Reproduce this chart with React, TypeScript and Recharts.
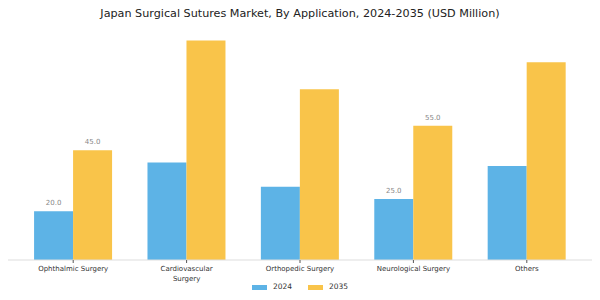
import React from "react";
import { BarChart, Bar, XAxis, YAxis, Legend, LabelList } from "recharts";

const categories = ["Ophthalmic Surgery", "Cardiovascular Surgery", "Orthopedic Surgery", "Neurological Surgery", "Others"];
const values2024 = [20.0, 40.0, 30.0, 25.0, 38.5];
const values2035 = [45.0, 90.0, 70.0, 55.0, 81.0];
const labels2024: (string | null)[] = ["20.0", null, null, "25.0", null];
const labels2035: (string | null)[] = ["45.0", null, null, "55.0", null];
const seriesNames = ["2024", "2035"];
const title = "Japan Surgical Sutures Market, By Application, 2024-2035 (USD Million)";

const BLUE = "#5DB3E6";
const YELLOW = "#F9C44A";
const FONT = "'DejaVu Sans', sans-serif";

const data = categories.map((c, i) => ({
  name: c,
  v2024: values2024[i],
  v2035: values2035[i],
  l2024: labels2024[i],
  l2035: labels2035[i],
}));

const Tick = (props: any) => {
  const { x, y, payload } = props;
  const label: string = payload.value;
  const lines = label === "Cardiovascular Surgery" ? ["Cardiovascular", "Surgery"] : [label];
  return (
    <g>
      {lines.map((ln, i) => (
        <text key={i} x={x} y={y + 5.5 + i * 10} textAnchor="middle" fontSize={7} fill="#333" fontFamily={FONT}>
          {ln}
        </text>
      ))}
    </g>
  );
};

const LegendContent = () => (
  <div style={{ display: "flex", justifyContent: "center", alignItems: "center", fontFamily: FONT, fontSize: 7.5, color: "#333", lineHeight: "10px" }}>
    {seriesNames.map((n, i) => (
      <div key={n} style={{ display: "flex", alignItems: "center", marginLeft: i === 0 ? 0 : 16 }}>
        <div style={{ width: 15, height: 5, background: i === 0 ? BLUE : YELLOW, marginRight: 6 }} />
        <span>{n}</span>
      </div>
    ))}
  </div>
);

export default function App() {
  return (
    <div style={{ position: "absolute", left: 0, top: 0, width: 600, height: 300, background: "#fff" }}>
      <div style={{ position: "absolute", left: 0, top: 7, width: 600, textAlign: "center", fontFamily: FONT, fontSize: 11.2, lineHeight: "13px", color: "#222" }}>
        {title}
      </div>
      <BarChart width={600} height={300} data={data} margin={{ top: 16, right: 8, bottom: 10, left: 8 }} barCategoryGap="15.5%" barGap={0}>
        <XAxis
          dataKey="name"
          height={30}
          interval={0}
          padding={{ left: 8.5, right: 8.5 }}
          stroke="#ddd"
          tickLine={{ stroke: "#555" }}
          tickSize={3}
          tick={<Tick />}
        />
        <YAxis hide domain={[0, 100]} />
        <Legend verticalAlign="middle" align="center" wrapperStyle={{ top: 282, left: 0, width: 600 }} content={<LegendContent />} />
        <Bar dataKey="v2024" name="2024" fill={BLUE} isAnimationActive={false}>
          <LabelList dataKey="l2024" position="top" offset={6} fill="#888" fontSize={7} fontFamily={FONT} />
        </Bar>
        <Bar dataKey="v2035" name="2035" fill={YELLOW} isAnimationActive={false}>
          <LabelList dataKey="l2035" position="top" offset={6} fill="#888" fontSize={7} fontFamily={FONT} />
        </Bar>
      </BarChart>
    </div>
  );
}
